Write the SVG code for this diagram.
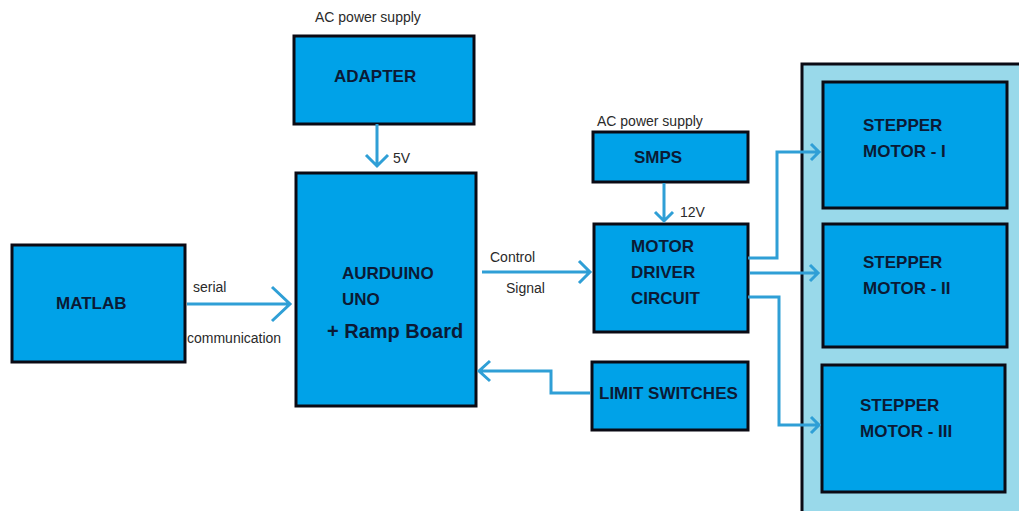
<svg xmlns="http://www.w3.org/2000/svg" width="1019" height="511" viewBox="0 0 1019 511">
<style>
.box{fill:#00a2e8;stroke:#0a0a14;stroke-width:3}
.panel{fill:#99d9ea;stroke:#0a0a14;stroke-width:3}
.lbl{font-family:"Liberation Sans",Arial,sans-serif;font-weight:bold;font-size:17px;fill:#0b1a35}
.big{font-size:20px}
.note{font-family:"Liberation Sans",Arial,sans-serif;font-size:14px;fill:#2a2a2a}
.wire{fill:none;stroke:#2f9fd6;stroke-width:3}
</style>
<rect x="0" y="0" width="1019" height="511" fill="#ffffff"/>
<g id="panel"><rect class="panel" x="802" y="64" width="240" height="470"/></g>
<g id="ac1"><text class="note" x="315" y="22">AC power supply</text></g>
<g id="adapter"><rect class="box" x="294" y="36" width="180" height="88"/><text class="lbl" x="334" y="82">ADAPTER</text></g>
<g id="arduino"><rect class="box" x="296" y="173" width="180" height="233"/><text class="lbl" x="342" y="279">AURDUINO</text><text class="lbl" x="342" y="305">UNO</text><text class="lbl big" x="327" y="338">+ Ramp Board</text></g>
<g id="matlab"><rect class="box" x="12" y="245" width="173" height="117"/><text class="lbl" x="56" y="309">MATLAB</text></g>
<g id="ac2"><text class="note" x="597" y="126">AC power supply</text></g>
<g id="smps"><rect class="box" x="593" y="132" width="155" height="50"/><text class="lbl" x="634" y="163">SMPS</text></g>
<g id="driver"><rect class="box" x="594" y="224" width="154" height="108"/><text class="lbl" x="631" y="252">MOTOR</text><text class="lbl" x="631" y="278">DRIVER</text><text class="lbl" x="631" y="304">CIRCUIT</text></g>
<g id="limit"><rect class="box" x="592" y="362" width="156" height="68"/><text class="lbl" x="599" y="399">LIMIT SWITCHES</text></g>
<g id="stepper1"><rect class="box" x="823" y="82" width="184" height="126"/><text class="lbl" x="863" y="131">STEPPER</text><text class="lbl" x="863" y="157">MOTOR - I</text></g>
<g id="stepper2"><rect class="box" x="823" y="224" width="184" height="123"/><text class="lbl" x="863" y="268">STEPPER</text><text class="lbl" x="863" y="294">MOTOR - II</text></g>
<g id="stepper3"><rect class="box" x="822" y="365" width="183" height="127"/><text class="lbl" x="860" y="411">STEPPER</text><text class="lbl" x="860" y="437">MOTOR - III</text></g>
<g id="connectors">
<path class="wire" d="M377,124 V166 M366,155 L377,166 L388,155"/>
<text class="note" x="393" y="163">5V</text>
<path class="wire" d="M187,304 H290 M272,287 L290,304 L272,321"/>
<text class="note" x="193" y="292">serial</text>
<text class="note" x="187" y="343">communication</text>
<path class="wire" d="M482,272 H590 M579,261 L590,272 L579,283"/>
<text class="note" x="490" y="262">Control</text>
<text class="note" x="506" y="293">Signal</text>
<path class="wire" d="M664,183 V221 M655,212 L664,221 L673,212"/>
<text class="note" x="680" y="217">12V</text>
<path class="wire" d="M590,393 H551 V371 H479 M490,361 L479,371 L490,381"/>
<path class="wire" d="M748,258 H777 V152 H819 M811,144 L819,152 L811,160"/>
<path class="wire" d="M750,273 H818 M810,265 L818,273 L810,281"/>
<path class="wire" d="M748,297 H779 V425 H819 M811,417 L819,425 L811,433"/>
</g>
</svg>
